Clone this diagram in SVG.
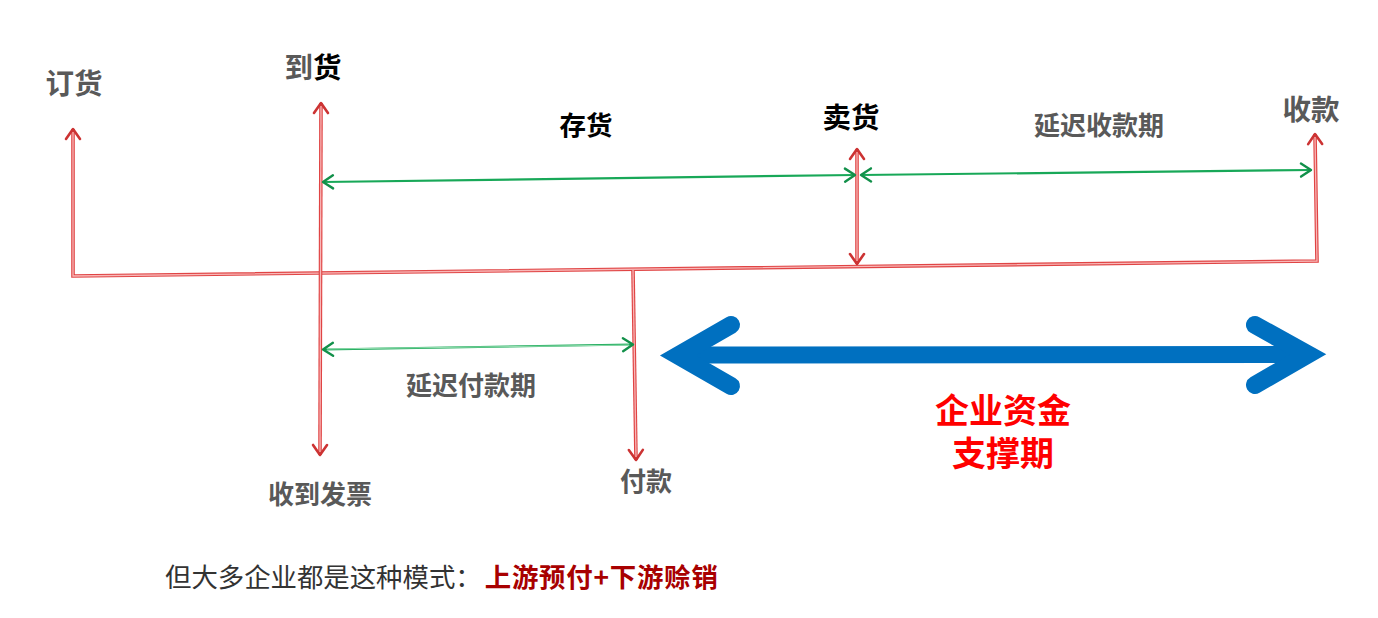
<svg xmlns="http://www.w3.org/2000/svg" width="1378" height="618" viewBox="0 0 1378 618">
<style>
text{font-family:"Noto Sans CJK SC","Liberation Sans",sans-serif;text-anchor:middle}
.lbl{font-size:28.5px;font-weight:700;fill:#595959}
.blk{fill:#000}
.per{font-size:26px;font-weight:700;fill:#595959}
.big{font-size:34px;font-weight:700;fill:#ff0000}
.ro{fill:none;stroke:#e04444;stroke-width:3.6}
.ri{fill:none;stroke:#f8b8b8;stroke-width:1.3}
.gr{fill:none;stroke:#18a858;stroke-width:2.2}
.gi{fill:none;stroke:#b8ecc8;stroke-width:0.8}
.blue{fill:none;stroke:#0070c0}
</style>
<defs>
<marker id="ra" viewBox="-14 -10 16 20" markerWidth="16" markerHeight="20" refX="0" refY="0" orient="auto-start-reverse" markerUnits="userSpaceOnUse" overflow="visible">
<path d="M-10,-7 L0,0 L-10,7" fill="none" stroke="#cc3333" stroke-width="2.6" stroke-linecap="round" stroke-linejoin="round"/>
</marker>
<marker id="ga" viewBox="-14 -10 16 20" markerWidth="16" markerHeight="20" refX="0" refY="0" orient="auto-start-reverse" markerUnits="userSpaceOnUse" overflow="visible">
<path d="M-10,-6.5 L0,0 L-10,6.5" fill="none" stroke="#12904a" stroke-width="2.4" stroke-linecap="round" stroke-linejoin="round"/>
</marker>
</defs>
<rect width="1378" height="618" fill="#fff"/>
<g id="connectors">
<path id="timeline" class="ro" d="M73,129 L73,276 L1317,261 L1315,134" marker-start="url(#ra)" marker-end="url(#ra)"/>
<path class="ri" d="M73,132 L73,276 L1317,261 L1315,137"/>
<path class="ro" d="M321,103 L320,455" marker-start="url(#ra)" marker-end="url(#ra)"/>
<path class="ri" d="M321,106 L320,452"/>
<path class="ro" d="M633,270 L636,460" marker-end="url(#ra)"/>
<path class="ri" d="M633,270 L636,457"/>
<path class="ro" d="M857,149 L857,264" marker-start="url(#ra)" marker-end="url(#ra)"/>
<path class="ri" d="M857,152 L857,261"/>
<path class="gr" d="M323,182 L855,175" marker-start="url(#ga)" marker-end="url(#ga)"/>
<path class="gr" d="M861,175 L1311,170" marker-start="url(#ga)" marker-end="url(#ga)"/>
<path class="gr" d="M323,349.5 L633,344.5" marker-start="url(#ga)" marker-end="url(#ga)"/>
<path class="gi" d="M327,349 L629,345"/>
</g>
<g id="support-arrow">
<path class="blue" d="M695,355 L1295,354.5" stroke-width="17"/>
<path class="blue" d="M731,325 L678,355.5 L731,386" stroke-width="18" stroke-linecap="round" stroke-linejoin="miter" stroke-miterlimit="6"/>
<path class="blue" d="M1255,325 L1308,354.5 L1255,385" stroke-width="18" stroke-linecap="round" stroke-linejoin="miter" stroke-miterlimit="6"/>
</g>
<g id="node-order"><text class="lbl" x="74" y="94">订货</text></g>
<g id="node-arrival"><text class="lbl" x="313" y="78">到<tspan class="blk">货</tspan></text></g>
<g id="node-inventory"><text class="lbl blk" x="586" y="135" style="font-size:26.5px">存货</text></g>
<g id="node-sell"><text class="lbl blk" x="851" y="128">卖货</text></g>
<g id="node-delay-receipt"><text class="per" x="1099" y="135">延迟收款期</text></g>
<g id="node-receipt"><text class="lbl" x="1311" y="120">收款</text></g>
<g id="node-invoice"><text class="per" x="320" y="504">收到发票</text></g>
<g id="node-delay-pay"><text class="per" x="471" y="395">延迟付款期</text></g>
<g id="node-pay"><text class="per" x="646" y="491">付款</text></g>
<g id="node-support"><text class="big" x="1003" y="423">企业资金</text><text class="big" x="1003" y="466">支撑期</text></g>
<g id="note"><text x="165" y="587" style="text-anchor:start;font-size:26.4px;fill:#333">但大多企业都是这种模式：<tspan dx="3" style="font-weight:700;fill:#a80000;letter-spacing:0.8px">上游预付+下游赊销</tspan></text></g>
</svg>
